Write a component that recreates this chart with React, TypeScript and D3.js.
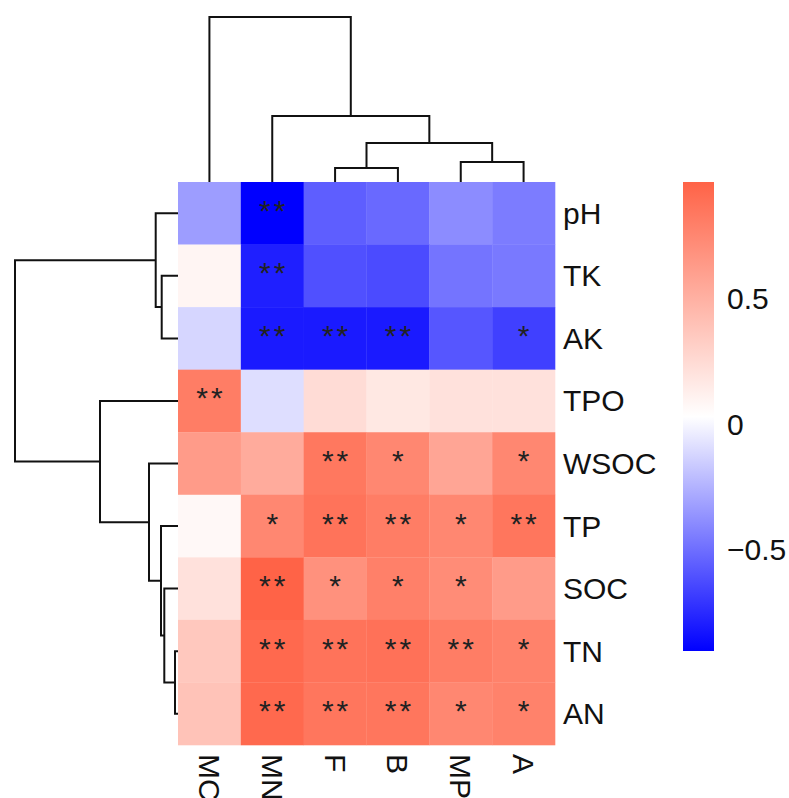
import React from 'react'
import * as d3 from 'd3'

// heatmap rows / columns in clustered order
const cols = ['MC', 'MN', 'F', 'B', 'MP', 'A']
const rows = ['pH', 'TK', 'AK', 'TPO', 'WSOC', 'TP', 'SOC', 'TN', 'AN']

// correlation coefficients, one array per row (same order as cols)
const corr = [
  [-0.33, -0.904, -0.56, -0.52, -0.39, -0.45],
  [0.09, -0.79, -0.61, -0.63, -0.48, -0.46],
  [-0.12, -0.81, -0.81, -0.81, -0.59, -0.67],
  [0.81, -0.09, 0.24, 0.17, 0.21, 0.21],
  [0.63, 0.53, 0.84, 0.75, 0.57, 0.75],
  [0.07, 0.75, 0.87, 0.81, 0.75, 0.85],
  [0.21, 0.964, 0.69, 0.79, 0.72, 0.63],
  [0.36, 0.93, 0.87, 0.88, 0.81, 0.78],
  [0.39, 0.93, 0.85, 0.85, 0.75, 0.78],
]

// significance marks
const stars = [
  ['', '**', '', '', '', ''],
  ['', '**', '', '', '', ''],
  ['', '**', '**', '**', '', '*'],
  ['**', '', '', '', '', ''],
  ['', '', '**', '*', '', '*'],
  ['', '*', '**', '**', '*', '**'],
  ['', '**', '*', '*', '*', ''],
  ['', '**', '**', '**', '**', '*'],
  ['', '**', '**', '**', '*', '*'],
]

const legendTicks = [-0.5, 0, 0.5]

type Node = string | { h: number; c: [Node, Node] }

// dendrograms: merge heights (arbitrary distance units)
const colTree: Node = {
  h: 1.65,
  c: ['MC', { h: 0.66, c: ['MN', { h: 0.39, c: [{ h: 0.14, c: ['F', 'B'] }, { h: 0.2, c: ['MP', 'A'] }] }] }],
}
const rowTree: Node = {
  h: 1.63,
  c: [
    { h: 0.223, c: ['pH', { h: 0.163, c: ['TK', 'AK'] }] },
    { h: 0.78, c: ['TPO', { h: 0.29, c: ['WSOC', { h: 0.17, c: ['TP', { h: 0.137, c: ['SOC', { h: 0.03, c: ['TN', 'AN'] }] }] }] }] },
  ],
}

const font = '"Liberation Sans", Arial, sans-serif'

// walk a tree, collecting one path per merge in (position, height) space
function walk(node: Node, pos: (k: string) => number, out: number[][]): { p: number; h: number } {
  if (typeof node === 'string') return { p: pos(node), h: 0 }
  const a = walk(node.c[0], pos, out)
  const b = walk(node.c[1], pos, out)
  out.push([a.p, a.h, b.p, b.h, node.h])
  return { p: (a.p + b.p) / 2, h: node.h }
}

export default function App() {
  const width = 789
  const height = 798

  const x = d3.scaleBand().domain(cols).range([178, 555])
  const y = d3.scaleBand().domain(rows).range([182, 745])

  const all = corr.flat()
  const [lo, hi] = d3.extent(all) as [number, number]
  const color = d3.scaleLinear<string>()
    .domain([lo, (lo + hi) / 2, hi])
    .range(['#0000ff', '#ffffff', '#ff6347'])

  const colH = d3.scaleLinear().domain([0, (colTree as any).h]).range([182, 17])
  const rowH = d3.scaleLinear().domain([0, (rowTree as any).h]).range([178, 15])

  const colSegs: number[][] = []
  walk(colTree, (k) => x(k)! + x.bandwidth() / 2, colSegs)
  const rowSegs: number[][] = []
  walk(rowTree, (k) => y(k)! + y.bandwidth() / 2, rowSegs)

  const legend = d3.scaleLinear().domain([lo, hi]).range([651, 182])

  return (
    <svg width={width} height={height} style={{ position: 'absolute', left: 0, top: 0, background: '#fff' }}>
      <defs>
        <linearGradient id="lg" x1="0" y1="1" x2="0" y2="0">
          <stop offset="0%" stopColor={color(lo)} />
          <stop offset="50%" stopColor={color((lo + hi) / 2)} />
          <stop offset="100%" stopColor={color(hi)} />
        </linearGradient>
      </defs>

      {rows.map((r, i) =>
        cols.map((c, j) => (
          <rect key={r + c} x={x(c)} y={y(r)} width={x.bandwidth() + 0.3} height={y.bandwidth() + 0.3}
            fill={color(corr[i][j])} />
        ))
      )}

      {rows.map((r, i) =>
        cols.map((c, j) => stars[i][j] ? (
          <text key={'s' + r + c} x={x(c)! + x.bandwidth() / 2 + 1.5} y={y(r)! + y.bandwidth() / 2 - 3}
            textAnchor="middle" dominantBaseline="central" fontFamily={font} fontSize={30}
            letterSpacing={3} fill="#222">{stars[i][j]}</text>
        ) : null)
      )}

      <g fill="none" stroke="#111" strokeWidth={2}>
        {colSegs.map(([ap, ah, bp, bh, h], i) => (
          <path key={'c' + i} d={`M${ap},${colH(ah)}V${colH(h)}H${bp}V${colH(bh)}`} />
        ))}
        {rowSegs.map(([ap, ah, bp, bh, h], i) => (
          <path key={'r' + i} d={`M${rowH(ah)},${ap}H${rowH(h)}V${bp}H${rowH(bh)}`} />
        ))}
      </g>

      {rows.map((r) => (
        <text key={'rl' + r} x={563} y={y(r)! + y.bandwidth() / 2} dominantBaseline="central"
          fontFamily={font} fontSize={30} fill="#111">{r}</text>
      ))}

      {cols.map((c) => (
        <text key={'cl' + c} transform={`translate(${x(c)! + x.bandwidth() / 2},754) rotate(90)`}
          dominantBaseline="central" fontFamily={font} fontSize={30} fill="#111">{c}</text>
      ))}

      <rect x={683} y={legend(hi)} width={31} height={legend(lo) - legend(hi)} fill="url(#lg)" />
      {legendTicks.map((t) => (
        <text key={'lt' + t} x={727} y={legend(t)} dominantBaseline="central"
          fontFamily={font} fontSize={30} fill="#111">{t === 0 ? '0' : (t < 0 ? '\u2212' : '') + Math.abs(t)}</text>
      ))}
    </svg>
  )
}
